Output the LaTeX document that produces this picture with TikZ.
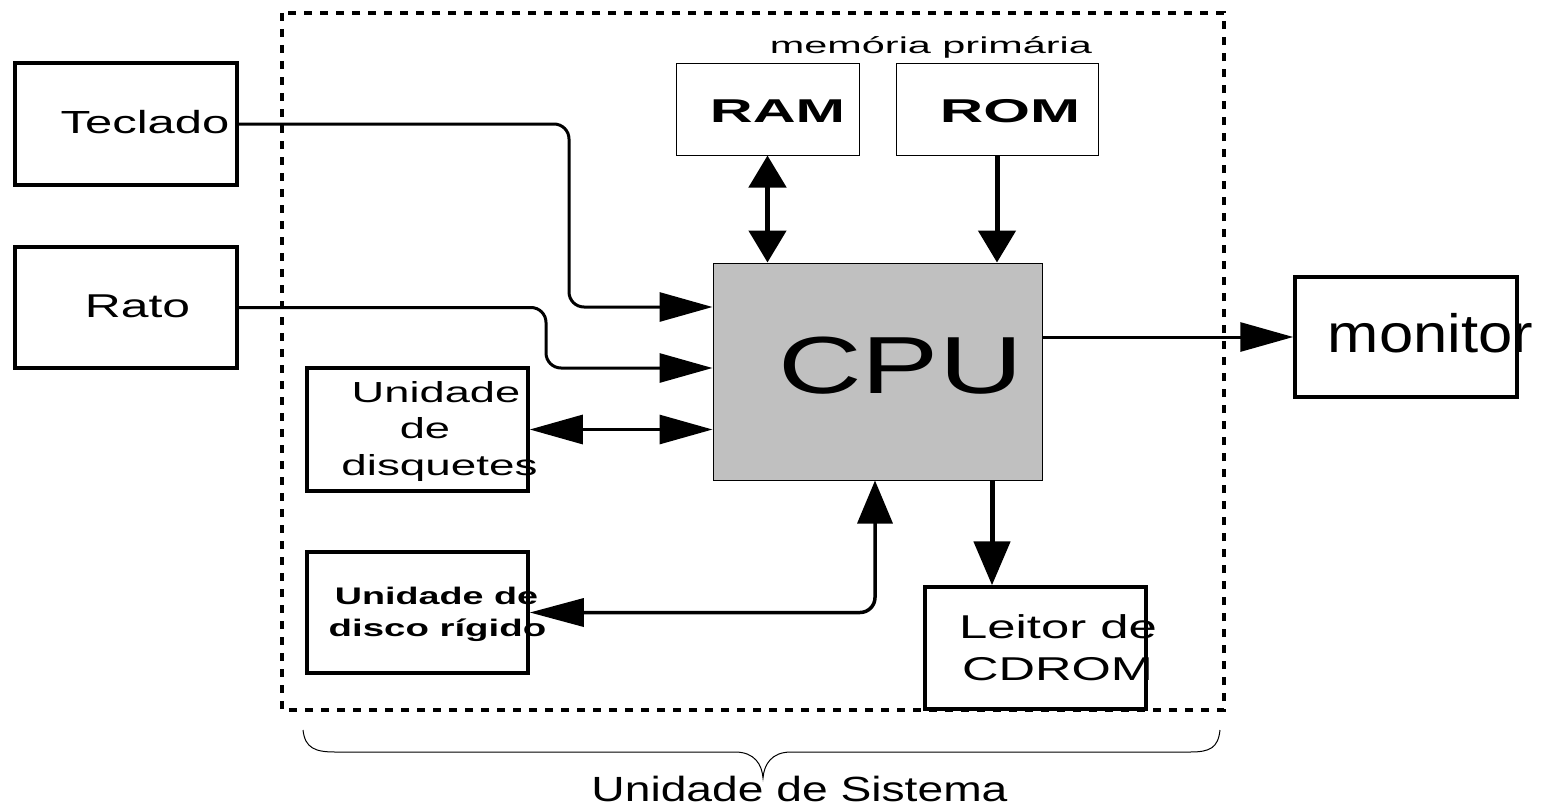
\documentclass[tikz,border=0pt]{standalone}
\usepackage{fontspec}
\setmainfont{Liberation Sans}
\usepackage{graphicx}
\usetikzlibrary{arrows.meta}
\newcommand\stxt[3]{\fontsize{#1}{#1}\selectfont\scalebox{#2}[1]{#3}}
\begin{document}
\begin{tikzpicture}[x=1pt,y=-1pt,
  thickbox/.style={draw,line width=3.5pt,rectangle,inner sep=0pt},
  thinbox/.style={draw,line width=1pt,rectangle,inner sep=0pt},
  lbl/.style={inner sep=0pt,anchor=base},
  conn/.style={line width=3pt,rounded corners=15pt},
  bigconn/.style={line width=5pt},
  hhead/.tip={Triangle[length=53pt,width=29pt]},
  vhead/.tip={Triangle[length=32pt,width=37pt]},
]
\useasboundingbox (0,0) rectangle (1541,808);
% system unit frame
\draw[line width=4pt,dash pattern=on 8pt off 8pt] (282,13) rectangle (1224,710);
% boxes
\node[thickbox,minimum width=222pt,minimum height=122pt] (tec) at (126,124) {};
\node[thickbox,minimum width=222pt,minimum height=121pt] (rato) at (126,307.5) {};
\node[thinbox,minimum width=183pt,minimum height=91pt] (ram) at (767.5,109.5) {};
\node[thinbox,minimum width=202pt,minimum height=91pt] (rom) at (997,109.5) {};
\node[thinbox,fill={rgb,255:red,192;green,192;blue,192},minimum width=329pt,minimum height=217pt] (cpu) at (877.5,371.5) {};
\node[thickbox,minimum width=221pt,minimum height=123pt] (dsk) at (417.5,429.5) {};
\node[thickbox,minimum width=221pt,minimum height=121pt] (hd) at (417.5,612.5) {};
\node[thickbox,minimum width=221pt,minimum height=122pt] (cd) at (1035.5,648) {};
\node[thickbox,minimum width=222pt,minimum height=120pt] (mon) at (1406,337) {};
% labels
\node[lbl] (tecl) at (145,133) {\stxt{32}{1.53}{Teclado}};
\node[lbl] (ratol) at (137.5,317) {\stxt{33}{1.51}{Rato}};
\node[lbl] (memp) at (931,53) {\stxt{23}{1.8}{memória primária}};
\node[lbl] (raml) at (777.5,122) {\stxt{33}{1.8}{\bfseries RAM}};
\node[lbl] (roml) at (1010,122) {\stxt{33}{1.82}{\bfseries ROM}};
\node[lbl] (cpul) at (900.5,393) {\stxt{81}{1.43}{CPU}};
\node[lbl] (dsk1) at (436,402) {\stxt{29}{1.56}{Unidade}};
\node[lbl] (dsk2) at (425,438) {\stxt{29}{1.56}{de}};
\node[lbl] (dsk3) at (439.5,475) {\stxt{29}{1.58}{disquetes}};
\node[lbl] (hd1) at (436.5,604) {\stxt{24}{1.57}{\bfseries Unidade de}};
\node[lbl] (hd2) at (437.5,636) {\stxt{24}{1.6}{\bfseries disco rígido}};
\node[lbl] (cd1) at (1058,638) {\stxt{33}{1.54}{Leitor de}};
\node[lbl] (cd2) at (1057.5,680) {\stxt{33}{1.53}{CDROM}};
\node[lbl] (monl) at (1430.5,352) {\stxt{54}{1.14}{monitor}};
\node[lbl] (sysl) at (799.5,801) {\stxt{35}{1.32}{Unidade de Sistema}};
% helper coordinates
\coordinate (k1) at (569,307);
\coordinate (k2) at (546,368);
\coordinate (hx) at (875,0);
\coordinate (cx) at (992,0);
% connectors
\draw[conn,-hhead] (tec.east) -- (k1 |- tec.east) -- (k1) -- (cpu.west |- k1);
\draw[conn,-hhead] (rato.east) -- (k2 |- rato.east) -- (k2) -- (cpu.west |- k2);
\draw[conn,hhead-hhead,rounded corners=0pt] (dsk.east) -- (cpu.west |- dsk.east);
\draw[conn,-hhead,rounded corners=0pt] (cpu.east |- mon.west) -- (mon.west);
\draw[bigconn,vhead-vhead] (ram.south) -- (cpu.north -| ram.south);
\draw[bigconn,-vhead] (rom.south) -- (cpu.north -| rom.south);
\draw[bigconn,-{Triangle[length=44pt,width=36pt]}] (cpu.south -| cx) -- (cd.north -| cx);
\draw[line width=3.5pt,rounded corners=15pt,{Triangle[length=43pt,width=35pt]}-{Triangle[length=54pt,width=28pt]}] (cpu.south -| hx) -- (hx |- hd.east) -- (hd.east);
% brace
\draw[line width=1pt] (303,730) .. controls (305,748) and (315,752) .. (335,752) -- (735,752) .. controls (755,752) and (762,765) .. (763,778) .. controls (764,765) and (771,752) .. (791,752) -- (1190,752) .. controls (1210,752) and (1218,748) .. (1220,730);
\end{tikzpicture}
\end{document}
